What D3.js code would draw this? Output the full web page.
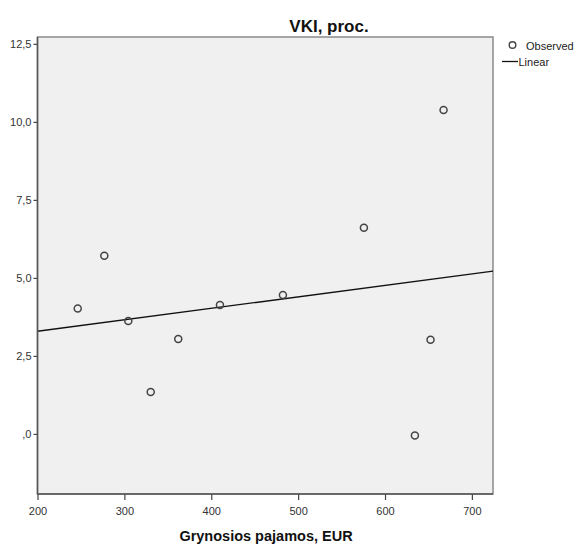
<!DOCTYPE html>
<html>
<head>
<meta charset="utf-8">
<script src="https://cdn.jsdelivr.net/npm/d3@7"></script>
<style>
  body { margin: 0; background: #fff; }
  svg { display: block; font-family: "Liberation Sans", Arial, sans-serif; }
</style>
</head>
<body>
<svg id="chart" width="580" height="545"></svg>
<script>
// Income (EUR) vs. VKI (percent)
const income = [246.3, 276.9, 304.5, 330.3, 362.0, 410.0, 482.5, 575.7, 652.4, 634.4, 667.4];
const vki    = [4.02, 5.71, 3.62, 1.34, 3.04, 4.13, 4.45, 6.61, 3.02, -0.05, 10.38];
const xTicks = [200, 300, 400, 500, 600, 700];
const yTicks = [0, 2.5, 5, 7.5, 10, 12.5];
const titleText = "VKI, proc.";
const xTitle = "Grynosios pajamos, EUR";
const legendLabels = ["Observed", "Linear"];

const svg = d3.select("#chart");
const plot = { left: 37.5, right: 493, top: 37, bottom: 494 };

const x = d3.scaleLinear().domain([200, 724.3]).range([plot.left, plot.right]);
const y = d3.scaleLinear().domain([-1.925, 12.72]).range([plot.bottom, plot.top]);

// plot background and frame
svg.append("rect")
  .attr("x", plot.left).attr("y", plot.top)
  .attr("width", plot.right - plot.left).attr("height", plot.bottom - plot.top)
  .attr("fill", "#f0f0f0").attr("stroke", "#8a8a8a").attr("stroke-width", 1.5);

// least-squares fit
const mx = d3.mean(income), my = d3.mean(vki);
let sxy = 0, sxx = 0;
income.forEach((v, i) => { sxy += (v - mx) * (vki[i] - my); sxx += (v - mx) ** 2; });
const slope = sxy / sxx, intercept = my - slope * mx;
const [x0, x1] = x.domain();

svg.append("line")
  .attr("x1", x(x0)).attr("y1", y(intercept + slope * x0))
  .attr("x2", x(x1)).attr("y2", y(intercept + slope * x1))
  .attr("stroke", "#111").attr("stroke-width", 1.4);

// observations
svg.append("g").selectAll("circle")
  .data(income.map((v, i) => [v, vki[i]]))
  .join("circle")
  .attr("cx", d => x(d[0])).attr("cy", d => y(d[1]))
  .attr("r", 3.5)
  .attr("fill", "none").attr("stroke", "#444").attr("stroke-width", 1.5);

// axes
const fmtY = d => d === 0 ? ",0" : d3.format(".1f")(d).replace(".", ",");
const yAxis = svg.append("g")
  .attr("transform", `translate(${plot.left},0)`)
  .call(d3.axisLeft(y).tickValues(yTicks).tickFormat(fmtY).tickSize(4).tickPadding(2));
const xAxis = svg.append("g")
  .attr("transform", `translate(0,${plot.bottom})`)
  .call(d3.axisBottom(x).tickValues(xTicks).tickFormat(d3.format("d")).tickSize(6).tickPadding(7));

[xAxis, yAxis].forEach(a => {
  a.select(".domain").remove();
  a.selectAll(".tick line").attr("stroke", "#444").attr("stroke-width", 1.2);
  a.selectAll(".tick text").attr("fill", "#333").attr("font-size", 11)
    .attr("font-family", "'Liberation Sans', Arial, sans-serif");
});

// left and bottom axis lines
svg.append("line").attr("x1", plot.left).attr("x2", plot.left)
  .attr("y1", plot.top).attr("y2", plot.bottom).attr("stroke", "#555").attr("stroke-width", 1.5);
svg.append("line").attr("x1", plot.left).attr("x2", plot.right)
  .attr("y1", plot.bottom).attr("y2", plot.bottom).attr("stroke", "#555").attr("stroke-width", 1.5);

// titles
svg.append("text").attr("x", 329).attr("y", 32)
  .attr("text-anchor", "middle").attr("font-size", 17).attr("font-weight", "bold")
  .attr("fill", "#111").text(titleText);
svg.append("text").attr("x", 266).attr("y", 541)
  .attr("text-anchor", "middle").attr("font-size", 14.5).attr("font-weight", "bold")
  .attr("fill", "#111").text(xTitle);

// legend
const lg = svg.append("g");
lg.append("circle").attr("cx", 512.5).attr("cy", 45).attr("r", 3.3)
  .attr("fill", "none").attr("stroke", "#444").attr("stroke-width", 1.4);
lg.append("text").attr("x", 526).attr("y", 49.5).attr("font-size", 11)
  .attr("fill", "#222").text(legendLabels[0]);
lg.append("line").attr("x1", 502).attr("x2", 518).attr("y1", 61.5).attr("y2", 61.5)
  .attr("stroke", "#111").attr("stroke-width", 1.3);
lg.append("text").attr("x", 518.5).attr("y", 65.5).attr("font-size", 11)
  .attr("fill", "#222").text(legendLabels[1]);
</script>
</body>
</html>
